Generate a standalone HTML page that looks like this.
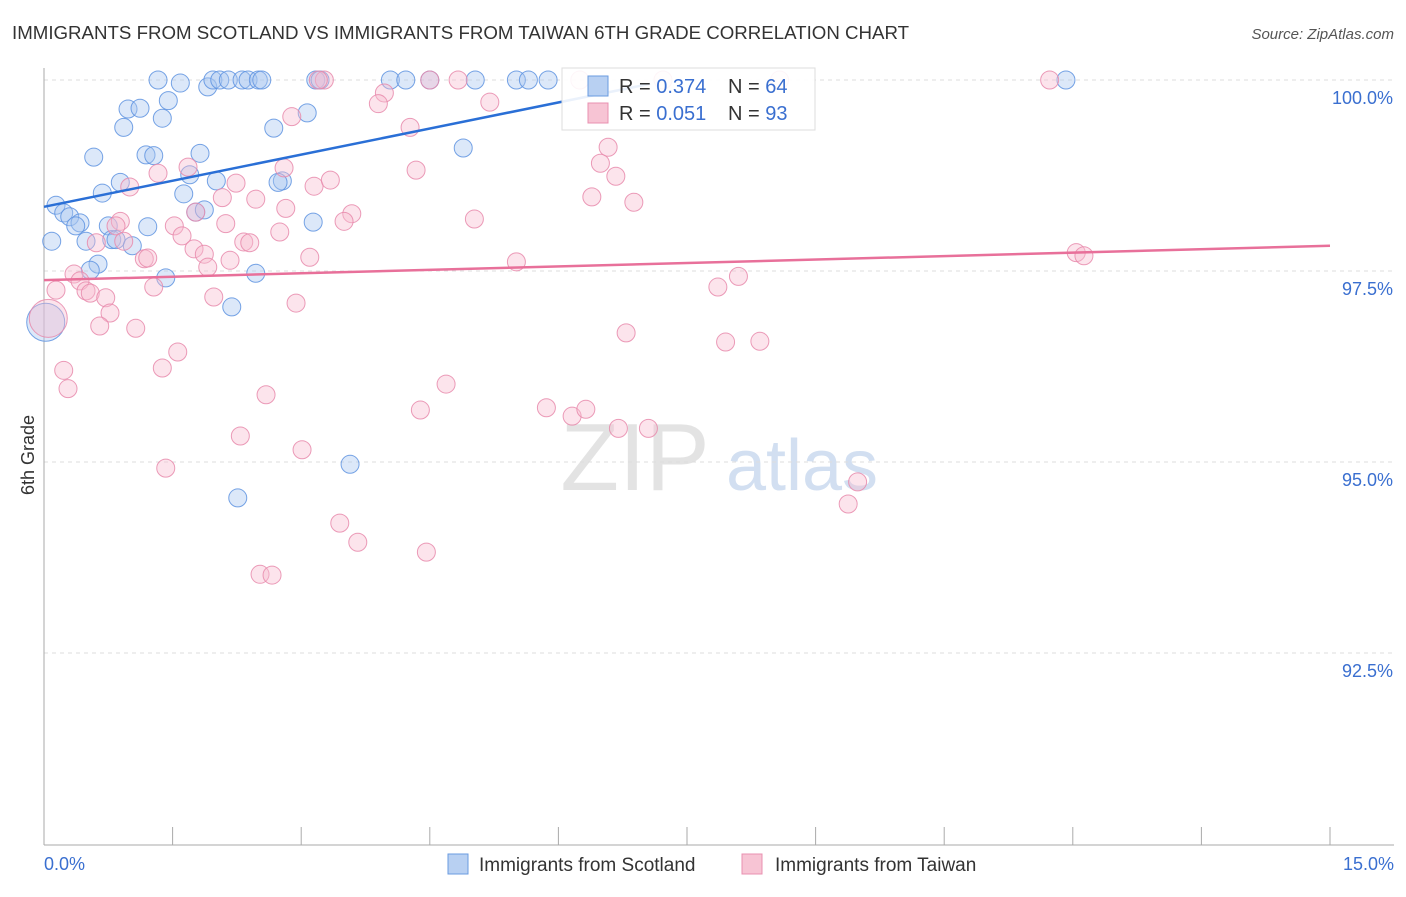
<!DOCTYPE html>
<html><head><meta charset="utf-8"><style>
body{margin:0;background:#fff;font-family:"Liberation Sans",sans-serif}
svg text{font-family:"Liberation Sans",sans-serif}
</style></head><body>
<svg id="chart" width="1406" height="892" viewBox="0 0 1406 892" xmlns="http://www.w3.org/2000/svg">
<text x="12" y="39" font-size="18.7" fill="#333">IMMIGRANTS FROM SCOTLAND VS IMMIGRANTS FROM TAIWAN 6TH GRADE CORRELATION CHART</text>
<text x="1394" y="39" font-size="15" fill="#555" text-anchor="end" font-style="italic">Source: ZipAtlas.com</text>
<text x="34" y="455" font-size="18" fill="#333" text-anchor="middle" transform="rotate(-90 34 455)">6th Grade</text>
<g><text x="635" y="490" font-size="96" fill="#ddd" text-anchor="middle" font-family="Liberation Serif" opacity="0.8">ZIP</text><text x="802" y="490" font-size="72" fill="#c8d8ee" text-anchor="middle" opacity="0.8">atlas</text></g>
<g id="grid"></g><g id="axes"></g><g id="pts"></g><g id="lines"></g>
<g>
<rect x="562" y="68" width="253" height="62" fill="#fff" fill-opacity="0.9" stroke="#ddd"/>
<rect x="588" y="76" width="20" height="20" fill="#b8d0f2" stroke="#6a9be0"/>
<rect x="588" y="103" width="20" height="20" fill="#f7c4d4" stroke="#e890b0"/>
<text x="619" y="93" font-size="20" fill="#333">R = <tspan fill="#3a6fd0">0.374</tspan></text>
<text x="728" y="93" font-size="20" fill="#333">N = <tspan fill="#3a6fd0">64</tspan></text>
<text x="619" y="120" font-size="20" fill="#333">R = <tspan fill="#3a6fd0">0.051</tspan></text>
<text x="728" y="120" font-size="20" fill="#333">N = <tspan fill="#3a6fd0">93</tspan></text>
</g>
<g>
<rect x="448" y="854" width="20" height="20" fill="#b8d0f2" stroke="#6a9be0"/>
<text x="479" y="871" font-size="19" fill="#333">Immigrants from Scotland</text>
<rect x="742" y="854" width="20" height="20" fill="#f7c4d4" stroke="#e890b0"/>
<text x="775" y="871" font-size="19" fill="#333">Immigrants from Taiwan</text>
</g>
</svg>
<script>
const yTicks=[100,97.5,95,92.5];
const yTickLabels=["100.0%","97.5%","95.0%","92.5%"];
const xEndLabels=["0.0%","15.0%"];
const scotX=[1.33,1.59,1.91,1.97,2.05,2.15,2.31,2.38,2.50,2.54,3.17,3.22,4.04,4.22,4.50,5.03,5.51,5.65,5.88,11.92,0.98,1.12,1.45,1.38,0.93,0.58,1.19,1.28,1.82,2.68,3.07,4.89,0.14,0.23,0.30,0.42,0.37,0.68,0.89,1.63,1.70,2.01,1.77,1.87,2.78,2.73,1.21,0.75,3.14,0.09,0.49,0.79,0.84,1.03,0.63,0.54,1.42,2.19,2.47,3.57,2.26,0.02];
const scotY=[100,99.96,99.91,100,100,100,100,100,100,100,100,100,100,100,100,100,100,100,100,100,99.62,99.63,99.73,99.50,99.38,98.99,99.02,99.01,99.04,99.37,99.57,99.11,98.36,98.26,98.21,98.13,98.09,98.52,98.66,98.51,98.76,98.68,98.27,98.30,98.68,98.66,98.08,98.09,98.14,97.89,97.89,97.91,97.91,97.83,97.59,97.51,97.41,97.03,97.47,94.97,94.53,96.83];
const taiX=[8.58,11.73,3.27,3.20,4.50,4.83,6.25,7.22,3.97,3.90,5.20,2.89,4.27,6.58,6.49,6.67,6.39,6.88,4.34,2.80,1.68,1.33,1.00,2.24,2.47,3.15,3.34,2.82,3.59,3.50,5.02,0.89,0.84,1.52,2.08,2.12,1.77,1.61,0.93,0.61,1.75,1.87,2.33,2.40,2.75,1.17,1.21,2.17,1.91,3.10,5.51,12.04,12.13,0.35,0.42,0.49,0.54,0.14,0.72,1.28,1.98,2.94,0.77,0.65,1.07,7.86,8.10,6.79,7.95,8.35,1.56,1.38,0.23,0.28,2.59,4.69,4.39,5.86,6.16,6.32,6.70,7.05,2.29,3.01,1.42,9.49,9.38,3.45,3.66,4.46,2.52,2.66,0.05];
const taiY=[100,100,100,100,100,100,100,100,99.83,99.69,99.71,99.52,99.38,99.12,98.91,98.74,98.47,98.40,98.82,98.85,98.86,98.78,98.60,98.65,98.44,98.61,98.69,98.32,98.25,98.15,98.18,98.15,98.09,98.09,98.46,98.12,98.27,97.96,97.89,97.87,97.79,97.72,97.88,97.87,98.01,97.66,97.67,97.64,97.55,97.68,97.62,97.74,97.70,97.46,97.37,97.24,97.21,97.25,97.15,97.29,97.16,97.08,96.95,96.78,96.75,97.29,97.43,96.69,96.57,96.58,96.44,96.23,96.20,95.96,95.88,96.02,95.68,95.71,95.60,95.69,95.44,95.44,95.34,95.16,94.92,94.74,94.45,94.20,93.95,93.82,93.53,93.52,96.88];
const scotTrend=[[0,98.34],[7.07,99.95]];
const taiTrend=[[0,97.38],[15,97.83]];
const NS="http://www.w3.org/2000/svg";
const X=v=>44+v/15*1286, Y=v=>80+(100-v)/2.5*191;
function mk(t,a,p){const e=document.createElementNS(NS,t);for(const k in a)e.setAttribute(k,a[k]);document.getElementById(p).appendChild(e);return e;}
yTicks.forEach((t,i)=>{
 const g=mk('line',{x1:44,x2:1394,y1:Y(t),y2:Y(t),stroke:'#ddd','stroke-dasharray':'4,4'},'grid');
 
 
 const l=mk('text',{x:1393,y:Y(t)+24,'font-size':18,fill:'#3a6fd0','text-anchor':'end'},'axes');
 l.textContent=yTickLabels[i];
 
 
});
const ya=mk('line',{x1:44,x2:44,y1:68,y2:845,stroke:'#aaa'},'axes');


const xa=mk('line',{x1:44,x2:1394,y1:845,y2:845,stroke:'#aaa'},'axes');


for(let i=0;i<=10;i++){const t=mk('line',{x1:X(i*1.5),x2:X(i*1.5),y1:827,y2:845,stroke:'#aaa'},'axes');
 
 }
[[0,'start',44],[15,'end',1394]].forEach((d,i)=>{const t=mk('text',{x:d[2],y:870,'font-size':18,fill:'#3a6fd0','text-anchor':d[1]},'axes');t.textContent=xEndLabels[i];
 
 });
function pts(xs,ys,fill,stroke,name){xs.forEach((x,i)=>{const big=(i===xs.length-1);const c=mk('circle',{cx:X(x),cy:Y(ys[i]),r:big?19:9,fill:fill,'fill-opacity':0.4,stroke:stroke,'stroke-width':1,'stroke-opacity':0.85},'pts');
 
 });}
pts(scotX,scotY,'#a8c6f0','#5e93e0','scotland-point');
pts(taiX,taiY,'#f7bcd0','#e88aac','taiwan-point');
const l1=mk('line',{x1:X(scotTrend[0][0]),y1:Y(scotTrend[0][1]),x2:X(scotTrend[1][0]),y2:Y(scotTrend[1][1]),stroke:'#2a6fd6','stroke-width':2.5},'lines');


const l2=mk('line',{x1:X(taiTrend[0][0]),y1:Y(taiTrend[0][1]),x2:X(taiTrend[1][0]),y2:Y(taiTrend[1][1]),stroke:'#e8709a','stroke-width':2.5},'lines');


</script>
</body></html>
